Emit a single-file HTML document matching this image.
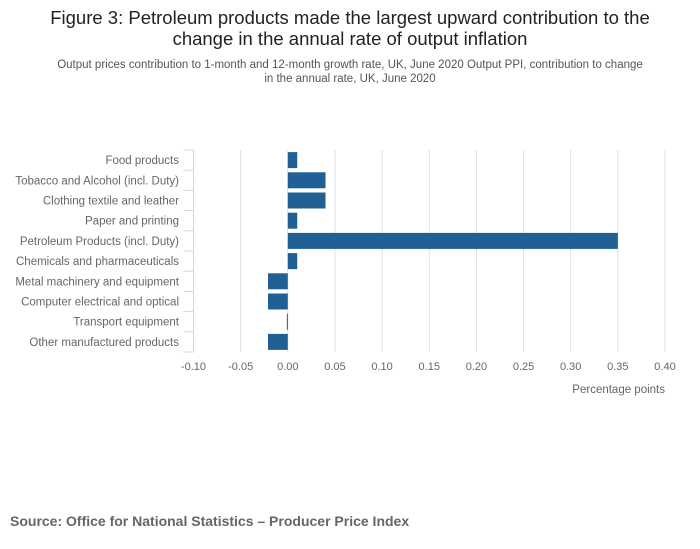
<!DOCTYPE html>
<html><head><meta charset="utf-8"><style>
body{margin:0;background:#fff;font-family:"Liberation Sans",sans-serif;}
#wrap{position:relative;width:700px;height:549px;overflow:hidden;}
.t{position:absolute;left:0;width:700px;text-align:center;}
</style></head><body>
<div id="wrap">
<div class="t" style="top:7px;font-size:18.5px;color:#222;line-height:21px;">Figure 3: Petroleum products made the largest upward contribution to the<br>change in the annual rate of output inflation</div>
<div class="t" style="top:58px;font-size:11.5px;color:#555;line-height:14px;">Output prices contribution to 1-month and 12-month growth rate, UK, June 2020 Output PPI, contribution to change<br>in the annual rate, UK, June 2020</div>
<svg id="chart" width="700" height="549" style="position:absolute;left:0;top:0"></svg>
<div style="position:absolute;left:10px;top:513px;font-size:14px;font-weight:bold;color:#666;">Source: Office for National Statistics – Producer Price Index</div>
</div>
<script>
const categories=["Food products","Tobacco and Alcohol (incl. Duty)","Clothing textile and leather","Paper and printing","Petroleum Products (incl. Duty)","Chemicals and pharmaceuticals","Metal machinery and equipment","Computer electrical and optical","Transport equipment","Other manufactured products"];
const values=[0.01,0.04,0.04,0.01,0.35,0.01,-0.021,-0.021,-0.001,-0.021];
const ticks=[-0.10,-0.05,0.00,0.05,0.10,0.15,0.20,0.25,0.30,0.35,0.40];
const tickLabels=["-0.10","-0.05","0.00","0.05","0.10","0.15","0.20","0.25","0.30","0.35","0.40"];
const NS="http://www.w3.org/2000/svg";
const svg=document.getElementById('chart');
const x0=193.5,x1=665,plotTop=150,plotBottom=352;
const xs=v=>x0+(v-(-0.10))/(0.50)*(x1-x0);
const band=(plotBottom-plotTop)/categories.length;
function mk(t,a){const e=document.createElementNS(NS,t);for(const k in a)e.setAttribute(k,a[k]);svg.appendChild(e);return e;}
ticks.forEach((t,i)=>{
 if(i>0){const g=mk('line',{x1:xs(t),x2:xs(t),y1:plotTop,y2:plotBottom,stroke:'#e0e0e0','stroke-width':1});
 
 }
 const l=mk('text',{x:xs(t),y:370,'text-anchor':'middle','font-size':11,fill:'#666','font-family':'Liberation Sans, sans-serif'});
 l.textContent=tickLabels[i];
 
 
});
const ax=mk('line',{x1:x0,x2:x0,y1:plotTop,y2:plotBottom,stroke:'#ccd6eb','stroke-width':1});


for(let i=0;i<=categories.length;i++){
 const y=plotTop+i*band;
 const tk=mk('line',{x1:x0-10,x2:x0,y1:y,y2:y,stroke:'#ccd6eb','stroke-width':1});
 
 
}
categories.forEach((c,i)=>{
 const yc=plotTop+(i+0.5)*band;
 const l=mk('text',{x:179,y:yc+4,'text-anchor':'end','font-size':11.5,fill:'#666','font-family':'Liberation Sans, sans-serif'});
 l.textContent=c;
 
 
 const v=values[i];
 const a=xs(Math.min(0,v)),b=xs(Math.max(0,v));
 const r=mk('rect',{x:a,y:yc-8,width:Math.max(1,b-a),height:16,fill:'#206095'});
 
 
});
const at=mk('text',{x:665,y:393,'text-anchor':'end','font-size':11.5,fill:'#666','font-family':'Liberation Sans, sans-serif'});
at.textContent='Percentage points';


</script>
</body></html>
